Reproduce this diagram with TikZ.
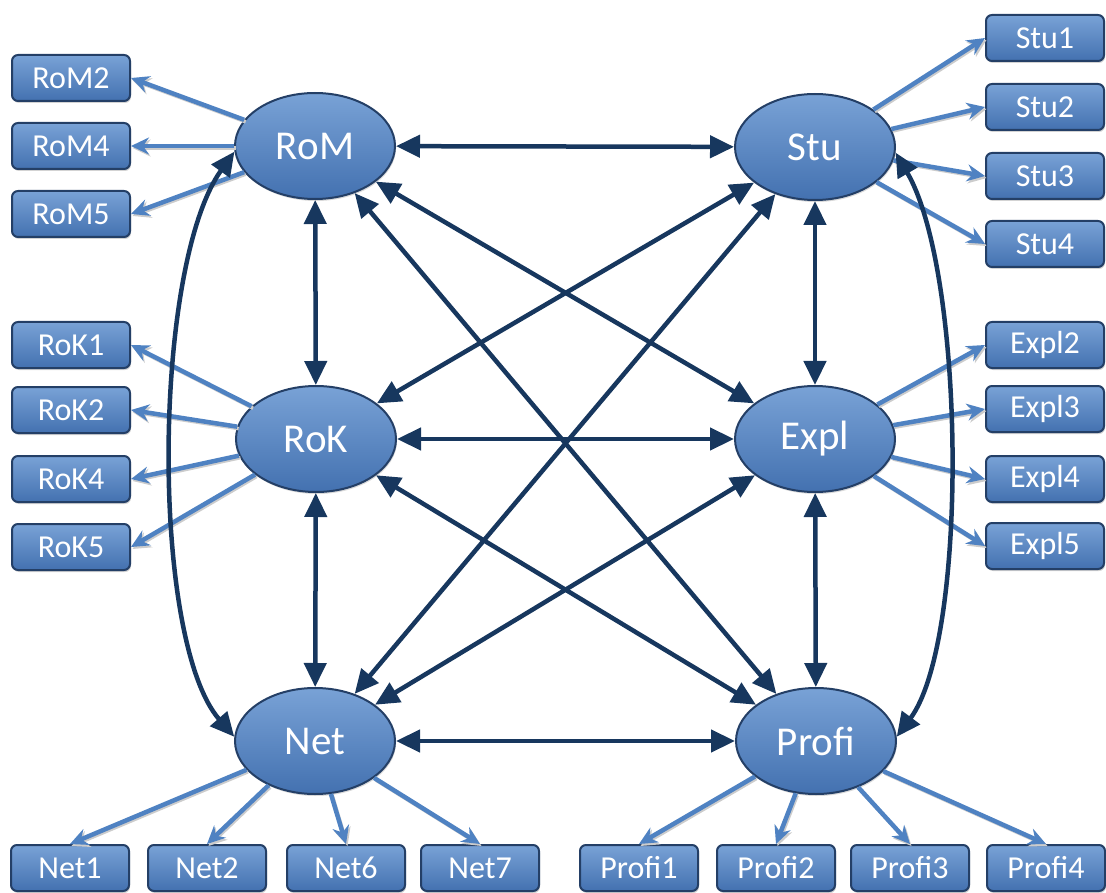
\documentclass[tikz,border=0pt]{standalone}
\usepackage{fontspec}
\setmainfont{Carlito}
\usetikzlibrary{arrows.meta,shapes.geometric,shadows}

\definecolor{boxtop}{HTML}{79A2D6}
\definecolor{boxmid}{HTML}{5384C3}
\definecolor{boxbot}{HTML}{4371B0}
\definecolor{boxline}{HTML}{243F66}
\definecolor{navy}{HTML}{17375E}
\definecolor{lineblue}{HTML}{4F82C2}

\tikzset{
  factor/.style={ellipse, minimum width=160pt, minimum height=106pt, inner sep=0pt,
    draw=boxline, line width=2pt, top color=boxtop, middle color=boxmid, bottom color=boxbot,
    text=white, font=\fontsize{41}{44}\selectfont,
    drop shadow={shadow xshift=1pt, shadow yshift=-2pt, opacity=0.3}},
  item/.style={rectangle, rounded corners=6pt, minimum width=118pt, minimum height=46pt,
    inner sep=0pt, draw=boxline, line width=2pt, top color=boxtop, middle color=boxmid,
    bottom color=boxbot, text=white, font=\fontsize{32}{34}\selectfont,
    drop shadow={shadow xshift=1pt, shadow yshift=-2pt, opacity=0.35}},
  link/.style={draw=navy, line width=4.5pt,
    {Triangle[length=24pt,width=22pt]}-{Triangle[length=24pt,width=22pt]}},
  load/.style={draw=lineblue, line width=4.5pt,
    -{Stealth[length=18pt,width=17pt,inset=6pt]},
    preaction={draw=black!20, line width=3.5pt,
      transform canvas={shift={(1.5pt,-2pt)}}}}
}

\begin{document}
\begin{tikzpicture}[x=1pt,y=-1pt]
\useasboundingbox (0,0) rectangle (1106,893);

% latent factors
\node[factor] (RoM)   at (315,146) {RoM};
\node[factor] (Stu)   at (815,147) {Stu};
\node[factor] (RoK)   at (316,439) {RoK};
\node[factor] (Expl)  at (815,439) {Expl};
\node[factor] (Net)   at (315,741) {Net};
\node[factor] (Profi) at (816,741) {Profi};

% indicator items, left column
\node[item] (RoM2) at (71,78)  {RoM2};
\node[item] (RoM4) at (71,146) {RoM4};
\node[item] (RoM5) at (71,214) {RoM5};
\node[item] (RoK1) at (71,345) {RoK1};
\node[item] (RoK2) at (71,410) {RoK2};
\node[item] (RoK4) at (71,479) {RoK4};
\node[item] (RoK5) at (71,547) {RoK5};

% indicator items, right column
\node[item] (Stu1) at (1045,38)  {Stu1};
\node[item] (Stu2) at (1045,107) {Stu2};
\node[item] (Stu3) at (1045,176) {Stu3};
\node[item] (Stu4) at (1045,244) {Stu4};
\node[item] (Expl2) at (1045,345) {Expl2};
\node[item] (Expl3) at (1045,409) {Expl3};
\node[item] (Expl4) at (1045,479) {Expl4};
\node[item] (Expl5) at (1045,546) {Expl5};

% indicator items, bottom row
\node[item] (Net1) at (70,868)  {Net1};
\node[item] (Net2) at (207,868) {Net2};
\node[item] (Net6) at (346,868) {Net6};
\node[item] (Net7) at (480,868) {Net7};
\node[item] (Profi1) at (639,868)  {Profi1};
\node[item] (Profi2) at (776,868)  {Profi2};
\node[item] (Profi3) at (910,868)  {Profi3};
\node[item] (Profi4) at (1046,868) {Profi4};

% loadings
\foreach \s/\t in {RoM/RoM2, RoM/RoM4, RoM/RoM5, RoK/RoK1, RoK/RoK2, RoK/RoK4, RoK/RoK5}
  \draw[load] (\s) -- (\t.east);
\foreach \s/\t in {Stu/Stu1, Stu/Stu2, Stu/Stu3, Stu/Stu4, Expl/Expl2, Expl/Expl3, Expl/Expl4, Expl/Expl5}
  \draw[load] (\s) -- (\t.west);
\foreach \s/\t in {Net/Net1, Net/Net2, Net/Net6, Net/Net7, Profi/Profi1, Profi/Profi2, Profi/Profi3, Profi/Profi4}
  \draw[load] (\s) -- (\t.north);

% correlations between factors
\draw[link] (RoM) -- (Stu);
\draw[link] (RoM) -- (RoK);
\draw[link] (RoM) -- (Expl);
\draw[link] (RoM) -- (Profi);
\draw[link] (Stu) -- (RoK);
\draw[link] (Stu) -- (Expl);
\draw[link] (Stu) -- (Net);
\draw[link] (RoK) -- (Expl);
\draw[link] (RoK) -- (Net);
\draw[link] (RoK) -- (Profi);
\draw[link] (Expl) -- (Net);
\draw[link] (Expl) -- (Profi);
\draw[link] (Net) -- (Profi);
\draw[link] (RoM.184) .. controls +(-82,115) and +(-84,-97) .. (Net.177);
\draw[link] (Stu.356) .. controls +(70,120) and +(72,-97) .. (Profi.3);

\end{tikzpicture}
\end{document}
